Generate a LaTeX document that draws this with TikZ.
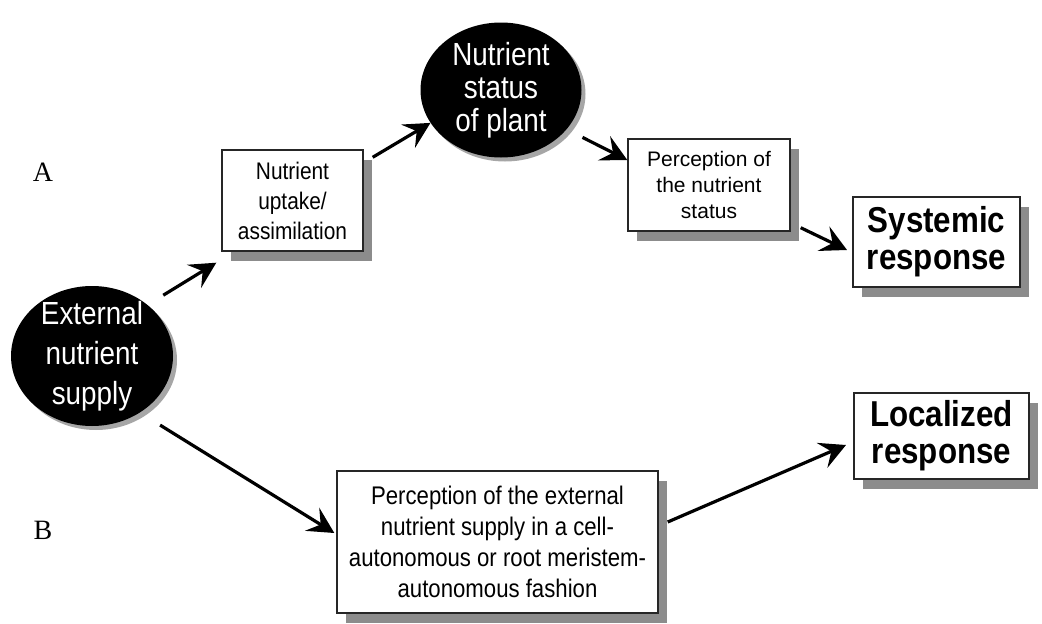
\documentclass[tikz,border=0pt]{standalone}
\usepackage{fontspec}
\newfontfamily\narrowsf[FakeStretch=0.87]{Liberation Sans}
\newfontfamily\plainsf{Liberation Sans}
\newfontfamily\tagfont{Liberation Serif}
\usepackage{tikz}
\usetikzlibrary{positioning,shapes.geometric,shadows,arrows.meta}
\tikzset{>={Stealth[length=26pt,width=27pt,inset=10pt]}}
\tikzset{
  stage/.style    ={ rectangle, draw=black!85, fill=white, line width=1.4pt, align=center,
                     inner sep=2pt,
                     drop shadow={shadow xshift=9pt, shadow yshift=-10pt, fill=black!45, opacity=1} },
  response/.style ={ stage, line width=2pt, font=\narrowsf\bfseries\fontsize{36}{37}\selectfont },
  pool/.style     ={ ellipse, fill=black, text=white, align=center, inner sep=-15pt,
                     font=\narrowsf\fontsize{32}{40}\selectfont,
                     drop shadow={shadow xshift=4pt, shadow yshift=-4pt, fill=black!35, opacity=1} },
  flow/.style={->, line width=3.2pt, draw=black},
%
  pathtag/.style={ font=\tagfont\fontsize{28}{28}\selectfont }
}

\begin{document}
\begin{tikzpicture}[x=1pt,y=-1pt]
        \useasboundingbox (0,0) rectangle (1042,624);
        \node[pool, minimum width=162pt, minimum height=140pt] (ext) at (92, 356) {External\\nutrient\\supply};
        \node[pool, minimum width=161pt, minimum height=135pt, font=\narrowsf\fontsize{32}{33}\selectfont] (status) at (501, 90) {Nutrient\\status\\of plant};
        \node[stage, minimum width=141pt, minimum height=101pt, font=\narrowsf\fontsize{24}{30}\selectfont] (uptake) at (292.5, 200.5) {Nutrient\\uptake/\\assimilation};
        \node[stage, minimum width=162pt, minimum height=92pt, font=\plainsf\fontsize{21}{26}\selectfont] (percept) at (709, 185) {Perception of\\the nutrient\\status};
        \node[response, minimum width=167pt, minimum height=90pt] (systemic) at (936.5, 242) {Systemic\\response};
        \node[response, minimum width=175pt, minimum height=86pt] (localized) at (941.5, 436) {Localized\\response};
        \node[stage, minimum width=321pt, minimum height=142pt, font=\narrowsf\fontsize{25.5}{31}\selectfont] (cellbox) at (497.5, 542) {Perception of the external\\nutrient supply in a cell-\\autonomous or root meristem-\\autonomous fashion};
        \node[pathtag] (tagA) at (43, 172) {A};
        \node[pathtag] (tagB) at (43, 530) {B};
        \draw[flow] ([shift={(14,-11)}]ext.41) -- ([shift={(-5,11)}]uptake.south west);
        \draw[flow] ([shift={(9,8)}]uptake.north east) -- (status.205);
        \draw[flow] ([shift={(15,9)}]status.-30) -- (percept.163);
        \draw[flow] ([shift={(10,-4)}]percept.south east) -- ([shift={(-5,8)}]systemic.west);
        \draw[flow] ([shift={(15,16)}]ext.-45) -- ([shift={(-2,-9)}]cellbox.west);
        \draw[flow] ([shift={(9,-20)}]cellbox.east) -- ([shift={(-7,9)}]localized.west);
      \end{tikzpicture}
\end{document}
